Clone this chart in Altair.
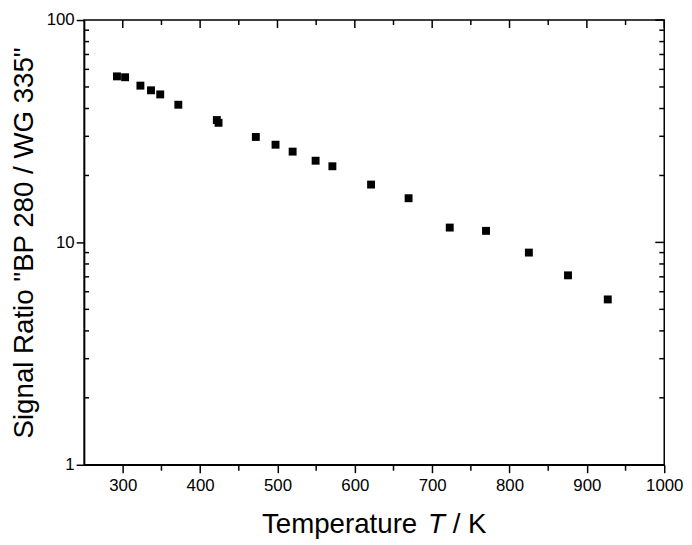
import altair as alt
import pandas as pd

# ---- data ----
temperature = [292.5, 303, 322.8, 336.5, 348.4, 371.8, 421.6, 423.8, 472, 497.5,
               519.6, 549.3, 571, 621, 669.5, 722.7, 769.6, 825, 875.6, 927]
ratio = [55.8, 55.3, 50.7, 48.3, 46.3, 41.6, 35.5, 34.5, 29.8, 27.5,
         25.6, 23.3, 22.0, 18.2, 15.8, 11.66, 11.27, 9.0, 7.11, 5.54]

x_major = [300, 400, 500, 600, 700, 800, 900, 1000]
x_minor = [350, 450, 550, 650, 750, 850, 950]
y_major = [1, 10, 100]
y_minor = [2, 3, 4, 5, 6, 7, 8, 9, 20, 30, 40, 50, 60, 70, 80, 90]

W, H = 587, 450
FONT = "Liberation Sans"
TITLE_SIZE = 28

df = pd.DataFrame({"T": temperature, "R": ratio})
xs = alt.Scale(domain=[250, 1000], nice=False, zero=False)
ys = alt.Scale(type="log", domain=[1, 100], nice=False)

x_axis = alt.Axis(
    values=x_major, title=None, orient="bottom", grid=False, format="d",
    tickSize=8, tickWidth=1.5, tickColor="black", domainColor="black",
    domainWidth=1.5, labelFontSize=17, labelFont=FONT, labelColor="black",
    labelPadding=5, labelFlush=False, labelOverlap=False)
y_axis = alt.Axis(
    values=y_major, title='Signal Ratio "BP 280 / WG 335"', orient="left",
    grid=False, tickSize=8, tickWidth=1.5, tickColor="black",
    domainColor="black", domainWidth=1.5, labelFontSize=17, labelFont=FONT,
    labelColor="black", labelPadding=2, labelFlush=False, labelOverlap=False,
    format="d", titleFont=FONT, titleFontSize=TITLE_SIZE,
    titleFontWeight="normal", titleColor="black", titlePadding=8)

points = alt.Chart(df).mark_square(size=64, color="black", opacity=1).encode(
    x=alt.X("T:Q", scale=xs, axis=x_axis),
    y=alt.Y("R:Q", scale=ys, axis=y_axis),
)

xmaj = pd.DataFrame({"v": x_major})
xmin = pd.DataFrame({"v": x_minor})
ymaj = pd.DataFrame({"v": y_major})
ymin = pd.DataFrame({"v": y_minor})

def xrule(data, y0, y1):
    return alt.Chart(data).mark_rule(color="black", strokeWidth=1.5).encode(
        x=alt.X("v:Q", scale=xs, axis=x_axis),
        y=alt.value(y0), y2=alt.value(y1))

def yrule(data, x0, x1):
    return alt.Chart(data).mark_rule(color="black", strokeWidth=1.5).encode(
        y=alt.Y("v:Q", scale=ys, axis=y_axis),
        x=alt.value(x0), x2=alt.value(x1))

ticks = [
    xrule(xmaj, 0, 8),          # top major, inward
    xrule(xmin, 0, 5),          # top minor, inward
    xrule(xmin, H, H + 6),      # bottom minor, outward
    yrule(ymin, 0, 5),          # left minor, inward
    yrule(ymaj, W - 9, W),      # right major, inward
    yrule(ymin, W - 5, W),      # right minor, inward
]

title_y = H + 61
x0 = 180
t1 = alt.Chart(pd.DataFrame({"s": ["Temperature"]})).mark_text(
    font=FONT, fontSize=TITLE_SIZE, align="left", baseline="middle", color="black"
).encode(text="s:N", x=alt.value(x0), y=alt.value(title_y))
t2 = alt.Chart(pd.DataFrame({"s": ["T"]})).mark_text(
    font=FONT, fontSize=TITLE_SIZE, fontStyle="italic", align="left",
    baseline="middle", color="black"
).encode(text="s:N", x=alt.value(x0 + 168), y=alt.value(title_y))
t3 = alt.Chart(pd.DataFrame({"s": ["/ K"]})).mark_text(
    font=FONT, fontSize=TITLE_SIZE, align="left", baseline="middle", color="black"
).encode(text="s:N", x=alt.value(x0 + 193), y=alt.value(title_y))

chart = alt.layer(*ticks, points, t1, t2, t3).properties(
    width=W, height=H,
    autosize=alt.AutoSizeParams(type="none"),
    padding={"left": 77, "top": 9, "right": 20, "bottom": 78},
).configure(background="white").configure_view(stroke="black", strokeWidth=1.5)

chart.save("out.html", embed_options={"renderer": "svg", "actions": False})
